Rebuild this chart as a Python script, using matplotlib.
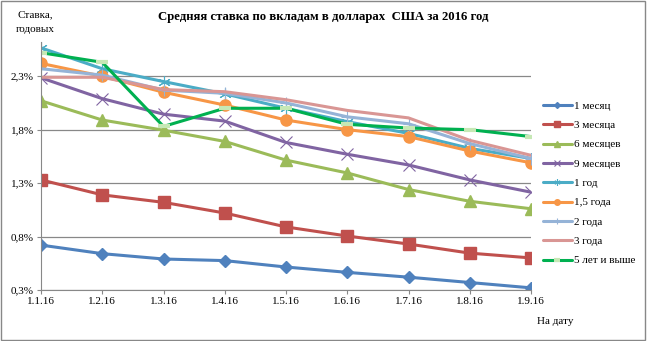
import matplotlib
matplotlib.use("Agg")
import matplotlib.pyplot as plt
from matplotlib.patches import Rectangle

plt.rcParams['font.family'] = ['Liberation Serif', 'DejaVu Serif']

# dates (x categories)
dates = ['1.1.16', '1.2.16', '1.3.16', '1.4.16', '1.5.16', '1.6.16', '1.7.16', '1.8.16', '1.9.16']

# average USD deposit rates, % per year
m1 = [0.72, 0.64, 0.59, 0.575, 0.515, 0.465, 0.42, 0.37, 0.32]
m3 = [1.33, 1.19, 1.12, 1.02, 0.89, 0.805, 0.73, 0.645, 0.60]
m6 = [2.07, 1.89, 1.795, 1.69, 1.515, 1.395, 1.24, 1.13, 1.06]
m9 = [2.285, 2.09, 1.945, 1.88, 1.68, 1.57, 1.47, 1.33, 1.215]
y1 = [2.565, 2.37, 2.25, 2.135, 2.0, 1.875, 1.765, 1.625, 1.53]
y15 = [2.42, 2.30, 2.15, 2.03, 1.89, 1.80, 1.735, 1.60, 1.49]
y2 = [2.37, 2.31, 2.17, 2.14, 2.05, 1.92, 1.855, 1.67, 1.53]
y3 = [2.29, 2.29, 2.175, 2.155, 2.08, 1.98, 1.91, 1.70, 1.56]
y5 = [2.52, 2.43, 1.83, 2.0, 2.0, 1.85, 1.815, 1.80, 1.735]

labels = ['1 месяц', '3 месяца', '6 месяцев', '9 месяцев', '1 год',
          '1,5 года', '2 года', '3 года', '5 лет и выше']
yticks = [0.3, 0.8, 1.3, 1.8, 2.3]
ytick_labels = ['0,3%', '0,8%', '1,3%', '1,8%', '2,3%']

series = [m1, m3, m6, m9, y1, y15, y2, y3, y5]
colors = ['#4F81BD', '#C0504D', '#9BBB59', '#8064A2', '#4BACC6',
          '#F79646', '#95B3D7', '#D99694', '#00B050']
markers = ['D', 's', '^', 'x', (6, 2, 0), 'o', '+', '', '_']
msizes = [6, 8, 8, 9, 9, 8, 9, 0, 9]

fig = plt.figure(figsize=(6.47, 3.41), dpi=100)
ax = fig.add_axes([41 / 647, 51 / 341, 490 / 647, 248 / 341])

x = list(range(len(dates)))
for vals, lab, c, mk, ms in zip(series, labels, colors, markers, msizes):
    kw = {}
    if mk in ('x', '+') or isinstance(mk, tuple):
        kw = dict(markeredgewidth=0.8)
    elif mk == '_':
        kw = dict(markeredgecolor='#C6E8B5', markeredgewidth=3)
    ax.plot(x, vals, color=c, linewidth=2.2, marker=mk if mk != '' else None,
            markersize=ms, label=lab, solid_capstyle='round', **kw)

ax.set_xlim(0, 8)
ax.set_ylim(0.3, 2.62)
ax.set_xticks(x)
ax.set_xticklabels(dates, fontsize=8)
ax.set_yticks(yticks)
ax.set_yticklabels(ytick_labels, fontsize=8)
ax.grid(axis='y', color='#888888', linewidth=0.9)
ax.set_axisbelow(True)
for side in ('top', 'right'):
    ax.spines[side].set_visible(False)
for side in ('left', 'bottom'):
    ax.spines[side].set_color('#888888')
ax.tick_params(axis='both', colors='#888888', length=3, width=0.8, labelcolor='black', pad=2)

fig.text(323 / 647, 1 - 17 / 341, 'Средняя ставка по вкладам в долларах  США за 2016 год',
         ha='center', va='center', fontsize=9.2, fontweight='bold')
fig.text(35 / 647, 1 - 22 / 341, 'Ставка,\nгодовых', ha='center', va='center',
         fontsize=8, linespacing=1.75)
fig.text(555 / 647, 1 - 321 / 341, 'На дату', ha='center', va='center', fontsize=8)

ax.legend(loc='upper left', bbox_to_anchor=(543 / 647, 1 - 101 / 341),
          bbox_transform=fig.transFigure, frameon=False, fontsize=8,
          handlelength=2.6, handletextpad=0.2, labelspacing=0.86,
          markerscale=0.5, borderaxespad=0, borderpad=0)

fig.add_artist(Rectangle((0.002, 0.003), 0.995, 0.993, transform=fig.transFigure,
                         fill=False, edgecolor='#888888', linewidth=1))

fig.savefig('out.png', dpi=100)
